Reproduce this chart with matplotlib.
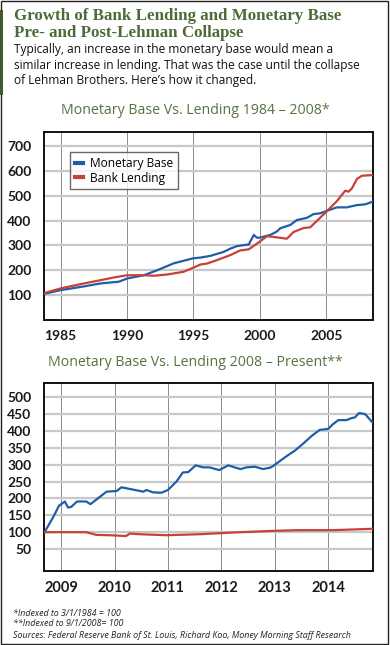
import matplotlib
matplotlib.use("Agg")
import matplotlib.pyplot as plt
from matplotlib.patches import Rectangle

# ---------------- data ----------------
# Panel 1: 1984 - 2008 (indexed 3/1/1984 = 100)
mb1_years = [1983.75, 1985.0, 1986.75, 1988.0, 1989.39, 1990.01, 1991.27, 1992.27, 1993.52,
             1994.97, 1995.53, 1996.28, 1997.28, 1997.78, 1998.28, 1999.04, 1999.16, 1999.54,
             1999.79, 1999.99, 2000.79, 2001.29, 2001.54, 2002.29, 2002.79, 2003.55, 2004.05,
             2004.55, 2005.0, 2005.80, 2006.55, 2007.31, 2007.93, 2008.51]
mb1_values = [105, 120, 135, 147, 154, 167, 180, 200, 228,
              248, 251, 258, 274, 287, 297, 303, 303, 342,
              331, 331, 342, 356, 369, 382, 402, 411, 426,
              429, 438, 453, 453, 462, 465, 476]

bl1_years = [1983.75, 1985.0, 1986.75, 1988.0, 1989.0, 1990.01, 1991.27, 1992.02, 1993.02,
             1994.27, 1994.97, 1995.53, 1996.03, 1996.78, 1997.78, 1998.53, 1999.16, 1999.99,
             2000.54, 2001.04, 2002.04, 2002.54, 2003.30, 2003.80, 2005.0, 2005.80, 2006.43,
             2006.68, 2006.93, 2007.31, 2007.68, 2008.51]
bl1_values = [108, 127, 147, 160, 171, 180, 180, 178, 183,
              194, 210, 223, 227, 241, 261, 280, 284, 315,
              337, 334, 327, 354, 370, 373, 435, 478, 520,
              516, 529, 567, 580, 583]

# Panel 2: 2008 - present (indexed 9/1/2008 = 100)
mb2_years = [2008.69, 2008.85, 2008.96, 2009.07, 2009.13, 2009.19, 2009.30, 2009.47, 2009.55,
             2009.85, 2010.04, 2010.13, 2010.54, 2010.60, 2010.72, 2010.88, 2011.00, 2011.16,
             2011.28, 2011.38, 2011.52, 2011.66, 2011.78, 2011.96, 2012.13, 2012.25, 2012.36,
             2012.47, 2012.63, 2012.78, 2012.91, 2012.96, 2013.09, 2013.22, 2013.38, 2013.53,
             2013.69, 2013.84, 2014.0, 2014.09, 2014.19, 2014.34, 2014.44, 2014.50, 2014.58,
             2014.69, 2014.72, 2014.83]
mb2_values = [100, 144, 178, 191, 173, 175, 191, 191, 183,
              220, 222, 233, 220, 225, 218, 217, 225, 250,
              277, 278, 298, 292, 292, 284, 298, 292, 287,
              292, 294, 287, 291, 295, 310, 325, 342, 362,
              385, 403, 406, 420, 432, 432, 438, 440, 453,
              450, 445, 425]

bl2_years = [2008.69, 2009.47, 2009.66, 2009.91, 2010.16, 2010.22, 2010.29, 2010.47, 2010.97,
             2011.60, 2012.22, 2012.97, 2013.47, 2014.09, 2014.83]
bl2_values = [100, 100, 92, 91, 89, 89, 96, 94, 91,
              94, 99, 104, 106, 106, 110]

top_xticks = [1985, 1990, 1995, 2000, 2005]
top_yticks = [100, 200, 300, 400, 500, 600, 700]
bot_xticks = [2009, 2010, 2011, 2012, 2013, 2014]
bot_yticks = [50, 100, 150, 200, 250, 300, 350, 400, 450, 500]

title_lines = ["Growth of Bank Lending and Monetary Base", "Pre- and Post-Lehman Collapse"]
subtitle_lines = ["Typically, an increase in the monetary base would mean a",
                  "similar increase in lending. That was the case until the collapse",
                  "of Lehman Brothers. Here\u2019s how it changed."]
panel_titles = ["Monetary Base Vs. Lending 1984 \u2013 2008*",
                "Monetary Base Vs. Lending 2008 \u2013 Present**"]
series_names = ["Monetary Base", "Bank Lending"]
footnotes = ["*Indexed to 3/1/1984 = 100", "**Indexed to 9/1/2008= 100",
             "Sources: Federal Reserve Bank of St. Louis, Richard Koo, Money Morning Staff Research"]

# ---------------- style ----------------
W, H = 390, 645
BLUE = "#1f5ea8"
RED = "#c8403a"
GREEN = "#4d6b38"
PGREEN = "#557340"
SANS = ["Open Sans", "DejaVu Sans"]
TICKF = ["Lato", "DejaVu Sans"]

fig = plt.figure(figsize=(W / 100, H / 100), dpi=100)
fig.patch.set_facecolor("white")


def rect(l, t, r, b):
    return [l / W, 1 - b / H, (r - l) / W, (b - t) / H]


def fy(y):
    return 1 - y / H


# border
fig.add_artist(Rectangle((0.5 / W, 1 - 644 / H), 387 / W, 643.5 / H, transform=fig.transFigure,
                         fill=False, edgecolor="#222222", linewidth=1.0))
fig.add_artist(Rectangle((0, fy(95)), 3 / W, 85 / H, transform=fig.transFigure,
                         facecolor="#3f5a2c", edgecolor="none"))

# titles
for i, line in enumerate(title_lines):
    fig.text(14 / W, fy(16 + i * 17), line, family=["Liberation Serif"], weight="bold",
             fontsize=12.2, color=GREEN, va="center", ha="left")
for i, line in enumerate(subtitle_lines):
    fig.text(14 / W, fy(50 + i * 15.2), line, family=SANS, fontsize=8.6, color="#111111",
             va="center", ha="left")


def style_axes(ax, xticks, yticks, xlim, ylim, xfs):
    ax.set_xlim(*xlim)
    ax.set_ylim(*ylim)
    ax.set_xticks(xticks)
    ax.set_yticks(yticks)
    ax.set_xticklabels([str(t) for t in xticks], family=TICKF, fontsize=xfs, color="#1a1a1a",
                       weight="bold")
    ax.set_yticklabels([str(t) for t in yticks], family=TICKF, fontsize=10, color="#1a1a1a",
                       weight="bold")
    ax.tick_params(axis="both", length=0)
    ax.tick_params(axis="y", pad=9)
    ax.tick_params(axis="x", pad=7)
    ax.grid(axis="y", color="#c8c8c8", linewidth=1.6, zorder=0)
    ax.grid(axis="x", color="#8a8a8a", linewidth=0.7, zorder=0)
    ax.set_axisbelow(True)
    for s in ax.spines.values():
        s.set_color("#111111")
        s.set_linewidth(1.4)


# Panel 1
fig.text(195 / W, fy(111), panel_titles[0], family=SANS, fontsize=10.2, color=PGREEN,
         ha="center", va="center", weight="medium")
ax1 = fig.add_axes(rect(44, 132, 373, 320))
ax1.plot(mb1_years, mb1_values, color=BLUE, linewidth=1.6, label=series_names[0], zorder=3)
ax1.plot(bl1_years, bl1_values, color=RED, linewidth=1.6, label=series_names[1], zorder=3)
style_axes(ax1, top_xticks, top_yticks, (1983.75, 2008.52), (0, 756), 10)
leg = ax1.legend(loc="upper left", bbox_to_anchor=((70 - 44) / 329, 1 - (152 - 132) / 188),
                 prop={"family": SANS, "size": 8.6}, frameon=True, fancybox=False,
                 edgecolor="#444444", handlelength=0.7, handletextpad=0.6, borderpad=0.4,
                 labelspacing=0.15, borderaxespad=0)
leg.get_frame().set_linewidth(1.0)
for lh in leg.get_lines():
    lh.set_linewidth(3.0)

# Panel 2
fig.text(195 / W, fy(362), panel_titles[1], family=SANS, fontsize=10.2, color=PGREEN,
         ha="center", va="center", weight="medium")
ax2 = fig.add_axes(rect(44, 383, 373, 571))
ax2.plot(mb2_years, mb2_values, color=BLUE, linewidth=1.6, zorder=3)
ax2.plot(bl2_years, bl2_values, color=RED, linewidth=1.6, zorder=3)
style_axes(ax2, bot_xticks, bot_yticks, (2008.68, 2014.84), (-15, 542), 10.5)

# footnotes
for i, line in enumerate(footnotes):
    fig.text(13 / W, fy(613 + i * 11), line, family=SANS, style="italic", fontsize=6.4,
             color="#222222", ha="left", va="center")

fig.savefig("out.png", dpi=100, facecolor="white")
